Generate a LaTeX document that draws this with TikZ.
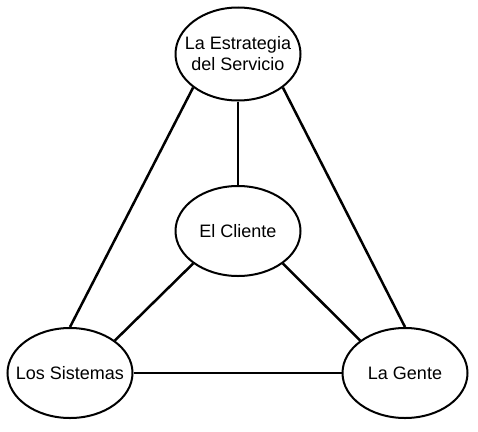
\documentclass[tikz,border=0pt]{standalone}
\usepackage{fontspec}
\setmainfont{Liberation Sans}
\usetikzlibrary{shapes.geometric}

\tikzset{
  blob/.style={ellipse, draw, line width=2pt, inner sep=0pt,
    minimum width=125pt, minimum height=90pt},
  link/.style={line width=2.5pt}
}

\begin{document}
\begin{tikzpicture}[x=1pt,y=-1pt,font=\fontsize{18}{21}\selectfont]
  \useasboundingbox (0,0) rectangle (478,431);
  \node[blob, minimum height=93pt, label={[align=center]center:La Estrategia\\ del Servicio}] (estrategia) at (238,54) {};
  \node[blob, label=center:El Cliente] (cliente) at (238,231) {};
  \node[blob, label=center:Los Sistemas] (sistemas) at (70,373) {};
  \node[blob, label=center:La Gente] (gente) at (405,373) {};
  \draw [link] (estrategia.south) -- (cliente.north);
  \draw [link] (estrategia.south west) -- (sistemas.north);
  \draw [link] (estrategia.south east) -- (gente.north);
  \draw [link] (cliente.south west) -- (sistemas.north east);
  \draw [link] (cliente.south east) -- (gente.north west);
  \draw [link] (sistemas.east) -- (gente.west);
\end{tikzpicture}
\end{document}
